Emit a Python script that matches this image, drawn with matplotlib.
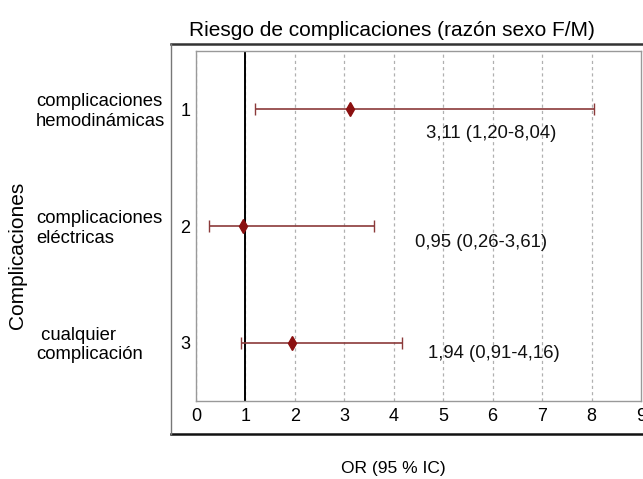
import matplotlib
matplotlib.use("Agg")
import matplotlib.pyplot as plt
from matplotlib.lines import Line2D
from matplotlib.transforms import blended_transform_factory

plt.rcParams['font.family'] = ['Liberation Sans', 'DejaVu Sans']

categories = ["complicaciones\nhemodinámicas", "complicaciones\neléctricas", " cualquier\ncomplicación"]
rows = [1, 2, 3]
odds = [3.11, 0.95, 1.94]
low = [1.20, 0.26, 0.91]
high = [8.04, 3.61, 4.16]
labels = ["3,11 (1,20-8,04)", "0,95 (0,26-3,61)", "1,94 (0,91-4,16)"]
label_x = [4.65, 4.43, 4.69]
label_dy = [0.21, 0.14, 0.09]
xticks = list(range(0, 10))

W, H = 643, 479
fig = plt.figure(figsize=(W / 100, H / 100), dpi=100)

def fx(px):
    return px / W

def fy(py):
    return 1 - py / H

ax = fig.add_axes([fx(196), fy(401), fx(641) - fx(196), fy(51) - fy(401)])
ax.set_xlim(0, 9)
ax.set_ylim(3.5, 0.5)

for x in xticks[:-1]:
    ax.axvline(x, color='#b0b0b0', lw=0.9, ls=(0, (2.5, 2.5)), zorder=1)
ax.axvline(1, color='black', lw=1.4, zorder=2)

ecolor = '#8b3a3a'
for r, o, lo, hi in zip(rows, odds, low, high):
    ax.errorbar([o], [r], xerr=[[o - lo], [hi - o]], fmt='d', color='#8b1010',
                ecolor=ecolor, elinewidth=1.2, capsize=4, capthick=1.0,
                markersize=7, zorder=3)

for r, t, lx, dy in zip(rows, labels, label_x, label_dy):
    ax.text(lx, r + dy, t, fontsize=13.3, ha='left', va='center', color='#111111')

ax.set_xticks(xticks)
ax.set_xticklabels([str(v) for v in xticks], fontsize=13)
ax.set_yticks(rows)
ax.set_yticklabels([str(v) for v in rows], fontsize=13)
ax.tick_params(axis='x', length=0, pad=5)
ax.tick_params(axis='y', length=0, pad=4)
for s in ax.spines.values():
    s.set_color('#999999')
    s.set_linewidth(1.0)

tr = blended_transform_factory(fig.transFigure, ax.transData)
for r, c in zip(rows, categories):
    ax.text(fx(36), r + 0.02, c, transform=tr, fontsize=13.3, ha='left', va='center',
            multialignment='left', linespacing=1.2)

# outer frame
fig.add_artist(Line2D([fx(171), 1.0], [fy(44), fy(44)], color='#333333', lw=1.8))
fig.add_artist(Line2D([fx(171), 1.0], [fy(434), fy(434)], color='#111111', lw=1.8))
fig.add_artist(Line2D([fx(171), fx(171)], [fy(44), fy(434)], color='#777777', lw=1.0))

fig.text(fx(392), fy(30), "Riesgo de complicaciones (razón sexo F/M)", fontsize=15,
         ha='center', va='center')
fig.text(fx(393), fy(469), "OR (95 % IC)", fontsize=12.5, ha='center', va='center')
fig.text(fx(18), fy(255), "Complicaciones", fontsize=15, rotation=90,
         ha='center', va='center')

fig.savefig("out.png", dpi=100)
